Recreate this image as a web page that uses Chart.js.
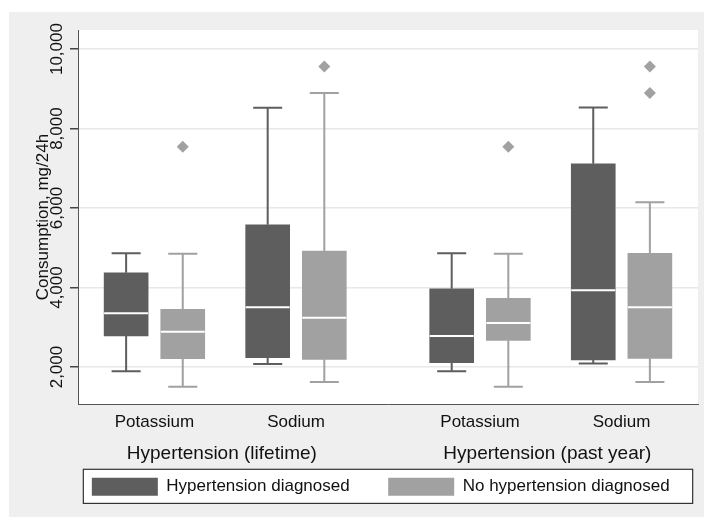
<!DOCTYPE html>
<html>
<head>
<meta charset="utf-8">
<script src="https://cdn.jsdelivr.net/npm/chart.js@4.4.1/dist/chart.umd.min.js"></script>
<style>
  html, body { margin: 0; padding: 0; background: #ffffff; }
  #wrap { width: 705px; height: 517px; position: relative; }
</style>
</head>
<body>
<div id="wrap"><canvas id="c"></canvas></div>
<script>
// ---- data ----
const groups = ['Hypertension (lifetime)', 'Hypertension (past year)'];
const categories = ['Potassium', 'Sodium'];
const seriesNames = ['Hypertension diagnosed', 'No hypertension diagnosed'];
// box order: [Potassium lifetime, Sodium lifetime, Potassium past year, Sodium past year]
const dxMin = [1892, 2075, 1892, 2092];
const dxQ1  = [2780, 2234, 2109, 2176];
const dxMed = [3351, 3502, 2780, 3929];
const dxQ3  = [4372, 5580, 3970, 7115];
const dxMax = [4860, 8524, 4860, 8532];
const dxOut = [[], [], [], []];
const noMin = [1505, 1623, 1505, 1623];
const noQ1  = [2209, 2193, 2671, 2218];
const noMed = [2888, 3241, 3107, 3502];
const noQ3  = [3452, 4918, 3727, 4860];
const noMax = [4851, 8893, 4851, 6143];
const noOut = [[7542], [9564], [7542], [9564, 8893]];
const yTicks = [2000, 4000, 6000, 8000, 10000];

// ---- layout constants (slot units on a linear x axis) ----
const LEFT = 0.85, BOX_STEP = 1, PAIR_STEP = 2.5, GROUP_STEP = 5.75, X_MAX = 10.95;
const GROUP_LABEL_NUDGE = -0.06;
const Y_MIN = 1070, Y_MAX = 10480;
const DARK = '#5e5e5e', LIGHT = '#a1a1a1';
function boxX(i, s) { const g = Math.floor(i / 2), c = i % 2; return LEFT + g * GROUP_STEP + c * PAIR_STEP + s * BOX_STEP; }
const pairMids = [0, 1, 2, 3].map(i => (boxX(i, 0) + boxX(i, 1)) / 2);
const groupMids = [0, 1].map(g => (pairMids[2 * g] + pairMids[2 * g + 1]) / 2 + GROUP_LABEL_NUDGE);

const stats = [
  { min: dxMin, q1: dxQ1, med: dxMed, q3: dxQ3, max: dxMax, out: dxOut, color: DARK },
  { min: noMin, q1: noQ1, med: noMed, q3: noQ3, max: noMax, out: noOut, color: LIGHT }
];

const barSets = stats.map((st, s) => ({
  type: 'bar',
  label: seriesNames[s],
  data: st.q1.map((q, i) => ({ x: boxX(i, s), y: [q, st.q3[i]] })),
  backgroundColor: st.color,
  borderWidth: 0,
  grouped: false,
  barThickness: 44,
  order: 2
}));
const outPts = [];
stats.forEach((st, s) => st.out.forEach((arr, i) => arr.forEach(v => outPts.push({ x: boxX(i, s), y: v }))));
const outSet = {
  type: 'scatter', label: 'outliers', data: outPts,
  pointStyle: 'rectRot', pointRadius: 6, pointHoverRadius: 6,
  backgroundColor: LIGHT, borderWidth: 0, order: 1
};

const FONT = 'Arial, "Liberation Sans", sans-serif';
const LEGEND_SHIFT = 16.75;

function legendFrame(chart) {
  const hb = chart.legend && chart.legend.legendHitBoxes;
  if (!hb || !hb.length) return null;
  const f = hb[0], l = hb[hb.length - 1];
  const left = f.left - 8.5, right = l.left + l.width + 23;
  const top = f.top - 8.4, bottom = f.top + f.height + 7.7;
  return { left, top, w: right - left, h: bottom - top };
}

const bgPlugin = {
  id: 'bg',
  afterLayout(chart) {
    const lg = chart.legend;
    if (lg) { lg.left += LEGEND_SHIFT; lg.right += LEGEND_SHIFT; }
  },
  beforeDraw(chart) {
    const { ctx, chartArea: a } = chart;
    ctx.save();
    ctx.fillStyle = '#ffffff';
    ctx.fillRect(0, 0, chart.width, chart.height);
    ctx.fillStyle = '#efefef';
    ctx.fillRect(9, 12, chart.width - 10, chart.height - 12);
    ctx.fillStyle = '#ffffff';
    ctx.fillRect(a.left, a.top, a.right - a.left, a.bottom - a.top);
    const fr = legendFrame(chart);
    if (fr) ctx.fillRect(fr.left, fr.top, fr.w, fr.h);
    ctx.restore();
  },
  afterDraw(chart) {
    const fr = legendFrame(chart);
    if (!fr) return;
    const { ctx } = chart;
    ctx.save();
    ctx.strokeStyle = '#333333';
    ctx.lineWidth = 1.2;
    ctx.strokeRect(fr.left, fr.top, fr.w, fr.h);
    ctx.restore();
  }
};

const boxPlugin = {
  id: 'boxparts',
  afterDatasetsDraw(chart) {
    const { ctx } = chart;
    const y = chart.scales.y;
    stats.forEach((st, s) => {
      const meta = chart.getDatasetMeta(s);
      meta.data.forEach((el, i) => {
        const cx = el.x, w = el.width, cap = w * 0.66;
        const pMin = y.getPixelForValue(st.min[i]);
        const pMax = y.getPixelForValue(st.max[i]);
        const pQ1 = y.getPixelForValue(st.q1[i]);
        const pQ3 = y.getPixelForValue(st.q3[i]);
        const pMed = y.getPixelForValue(st.med[i]);
        ctx.save();
        ctx.strokeStyle = st.color;
        ctx.lineWidth = 2;
        ctx.beginPath();
        ctx.moveTo(cx, pQ3); ctx.lineTo(cx, pMax);
        ctx.moveTo(cx - cap / 2, pMax); ctx.lineTo(cx + cap / 2, pMax);
        ctx.moveTo(cx, pQ1); ctx.lineTo(cx, pMin);
        ctx.moveTo(cx - cap / 2, pMin); ctx.lineTo(cx + cap / 2, pMin);
        ctx.stroke();
        ctx.strokeStyle = '#ffffff';
        ctx.lineWidth = 2;
        ctx.beginPath();
        ctx.moveTo(cx - w / 2, pMed); ctx.lineTo(cx + w / 2, pMed);
        ctx.stroke();
        ctx.restore();
      });
    });
  }
};

new Chart(document.getElementById('c'), {
  type: 'bar',
  data: { datasets: [...barSets, outSet] },
  options: {
    responsive: true,
    maintainAspectRatio: false,
    animation: false,
    layout: { padding: { top: 30, right: 7, left: 30, bottom: 11.3 } },
    plugins: {
      tooltip: { enabled: false },
      legend: {
        position: 'bottom',
        fullSize: true,
        labels: {
          filter: item => item.datasetIndex < 2,
          boxWidth: 66, boxHeight: 18, padding: 38.5,
          color: '#111111',
          font: { family: FONT, size: 17 }
        }
      }
    },
    scales: {
      x: {
        type: 'linear', position: 'bottom', min: 0, max: X_MAX, offset: false,
        grid: { display: false, drawTicks: false },
        border: { display: true, color: '#555555', width: 1 },
        afterBuildTicks: sc => { sc.ticks = pairMids.map(v => ({ value: v })); },
        afterFit: sc => { sc.height = 35.2; },
        ticks: {
          autoSkip: false, maxRotation: 0, minRotation: 0, padding: 8.5,
          color: '#111111', font: { family: FONT, size: 17 },
          callback: (v, i) => categories[i % 2]
        }
      },
      x2: {
        type: 'linear', position: 'bottom', min: 0, max: X_MAX, offset: false,
        grid: { display: false, drawTicks: false },
        border: { display: false },
        afterBuildTicks: sc => { sc.ticks = groupMids.map(v => ({ value: v })); },
        afterFit: sc => { sc.height = 0; },
        ticks: {
          autoSkip: false, maxRotation: 0, minRotation: 0, mirror: true, padding: -25.6,
          color: '#111111', font: { family: FONT, size: 19 },
          callback: (v, i) => groups[i]
        }
      },
      y: {
        type: 'linear', position: 'left', min: Y_MIN, max: Y_MAX,
        afterBuildTicks: sc => { sc.ticks = yTicks.map(v => ({ value: v })); },
        afterFit: sc => { sc.width = 48; },
        grid: { color: '#e8e8e8', lineWidth: 1.5, tickColor: '#444444', tickLength: 8, drawTicks: true },
        border: { display: true, color: '#555555', width: 1 },
        ticks: {
          minRotation: 90, maxRotation: 90, crossAlign: 'center', mirror: true, padding: -47,
          color: '#111111', font: { family: FONT, size: 17 },
          callback: v => v.toLocaleString('en-US')
        },
        title: {
          display: true, text: 'Consumption, mg/24h',
          color: '#111111', font: { family: FONT, size: 17 },
          padding: { top: 2.8, bottom: 0 }
        }
      }
    }
  },
  plugins: [bgPlugin, boxPlugin]
});
</script>
</body>
</html>
